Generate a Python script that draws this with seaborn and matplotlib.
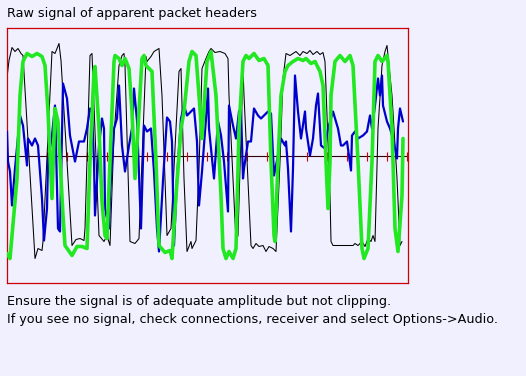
import numpy as np
import pandas as pd
import matplotlib
matplotlib.use("Agg")
import matplotlib.pyplot as plt
import seaborn as sns

# ===================== data (sample index, amplitude) =====================
black_x = [0, 2, 5, 8, 11, 14, 16, 28, 31, 35, 36, 45, 48, 52, 54, 65, 69, 73, 77, 78,
           83, 85, 92, 97, 100, 103, 107, 112, 115, 117, 118, 123, 128, 132, 139, 140, 144,
           147, 152, 155, 160, 164, 169, 172, 174, 177, 180, 184, 185, 189, 192, 195, 199,
           202, 204, 208, 213, 218, 221, 222, 229, 231, 236, 237, 244, 246, 249, 252, 256,
           259, 262, 266, 269, 273, 276, 279, 283, 289, 293, 296, 300, 303, 306, 310, 313,
           316, 318, 323, 324, 326, 336, 346, 348, 351, 355, 358, 361, 364, 366, 368, 371,
           375, 378, 380, 381, 385, 390, 393, 395]
black_y = [78, 95, 108, 104, 107, 102, 100, -103, -93, -95, -86, 104, 102, 112, 95, -90, -84,
           -83, -85, -73, 100, 102, -80, -86, -80, -90, 20, 90, 100, 102, 90, -86, -88, -83,
           99, 94, 99, 104, 107, 60, -80, -73, 27, 84, 87, -23, -96, -86, -93, -85, -13, 87,
           97, 104, 107, 103, 104, 102, 97, 60, -86, -80, 87, 60, -90, -93, -88, -91, -90,
           -96, -91, -93, -96, -6, 77, 102, 100, 104, 100, 104, 102, 105, 101, 104, 101, 103,
           94, -40, -86, -90, -90, -90, -88, -90, -86, -91, -83, -86, -80, -86, 27, 90, 104,
           110, 100, 60, -23, -90, -86]

blue_x = [0, 1, 3, 5, 8, 13, 16, 20, 21, 25, 28, 31, 35, 37, 40, 41, 45, 48, 51, 53, 56, 60,
          63, 68, 72, 77, 80, 83, 85, 87, 88, 92, 95, 97, 98, 102, 103, 107, 110, 112, 115,
          118, 122, 125, 127, 130, 134, 137, 140, 144, 147, 150, 152, 156, 160, 163, 165, 167,
          170, 174, 177, 180, 184, 187, 190, 192, 195, 199, 201, 202, 207, 211, 214, 217, 221,
          222, 226, 229, 232, 234, 236, 237, 241, 244, 247, 251, 254, 257, 261, 264, 267, 270,
          274, 278, 279, 281, 284, 286, 288, 291, 294, 298, 299, 303, 306, 309, 311, 314, 318,
          321, 326, 331, 334, 336, 340, 344, 345, 348, 351, 356, 360, 363, 365, 368, 371, 373,
          375, 376, 380, 383, 386, 390, 391, 393, 396]
blue_y = [24, -6, -16, -50, -13, 40, 30, -10, 17, 10, 17, 10, -43, -85, -53, -6, 20, 50, -73,
          -76, 72, 57, 20, -6, 14, 14, 27, 47, 44, -6, -60, 10, 37, 27, -53, -73, -40, 27, 37,
          70, 10, -16, 10, 27, 67, 35, -73, 30, 24, 27, -16, -73, -96, -25, 38, 34, 14, -90,
          -23, 37, 50, 40, 44, 47, 14, -50, -16, 37, 67, 27, -23, 34, 20, -6, -56, 50, 30, 17,
          44, 47, -23, -13, 14, 14, 47, 40, 37, 40, 44, 42, -20, -5, 17, 10, 14, -13, -76,
          -13, 80, 44, 17, 44, 27, 0, 17, 50, 62, 10, 7, 27, 44, 27, 10, 10, 14, -15, 20, 24,
          17, 20, 24, 40, 27, 50, 77, 60, 80, 50, 34, 27, 17, -3, 27, 47, 34]

green_x = [0, 3, 10, 13, 16, 20, 25, 30, 35, 38, 41, 45, 48, 51, 56, 58, 65, 70, 75, 80, 83,
           87, 88, 92, 95, 98, 100, 103, 107, 108, 112, 115, 118, 122, 125, 128, 132, 135, 137,
           139, 145, 149, 152, 158, 163, 165, 169, 174, 177, 182, 185, 189, 192, 195, 200, 204,
           209, 214, 216, 219, 222, 226, 229, 232, 236, 239, 242, 247, 252, 257, 261, 264, 267,
           268, 271, 274, 278, 281, 286, 291, 296, 299, 304, 308, 313, 316, 319, 321, 323, 324,
           328, 333, 338, 343, 346, 351, 355, 357, 361, 365, 368, 371, 375, 380, 381, 385, 388,
           391, 395, 396]
green_y = [-98, -103, -23, 60, 94, 102, 99, 102, 99, 90, 44, -43, 47, 34, -60, -90, -100, -91,
           -91, -93, -6, 84, 89, 27, -46, -80, -83, -6, 94, 100, 97, 90, 97, 87, 44, -23, 44, 97,
           100, 90, 84, -6, -90, -97, -95, -103, -40, 27, 44, 94, 104, 100, 60, 17, 94, 104, 60,
           -40, -93, -103, -96, -103, -93, 27, 94, 100, 97, 102, 95, 97, 90, -6, -80, -86, -6,
           60, 84, 90, 94, 97, 95, 97, 92, 94, 84, 70, -6, -53, -6, 60, 94, 100, 94, 100, 90,
           -6, -93, -103, -93, -6, 94, 100, 94, 100, 94, 27, -73, -96, -40, 17]

title = "Raw signal of apparent packet headers"
note_lines = ["Ensure the signal is of adequate amplitude but not clipping.",
              "If you see no signal, check connections, receiver and select Options->Audio."]

BG = "#F0F0FF"
N_SAMPLES = 401
HALF = 127.5

sns.set_theme(style="white")
plt.rcParams['font.family'] = ['DejaVu Sans']

fig = plt.figure(figsize=(5.26, 3.76), dpi=100, facecolor=BG)
ax = fig.add_axes([7 / 526, 1 - 283 / 376, 401 / 526, 255 / 376])
ax.set_facecolor(BG)

# centre line with red tick marks every 20 samples
ax.axhline(0, color="#300000", lw=0.8, zorder=1)
ax.vlines(np.arange(20, N_SAMPLES, 20), -5, 4, color="#CC0000", lw=0.8, zorder=1)

df_black = pd.DataFrame({"x": black_x, "y": black_y})
df_blue = pd.DataFrame({"x": blue_x, "y": blue_y})
df_green = pd.DataFrame({"x": green_x, "y": green_y})

sns.lineplot(data=df_black, x="x", y="y", ax=ax, color="black", lw=0.75,
             sort=False, estimator=None, zorder=2)
sns.lineplot(data=df_blue, x="x", y="y", ax=ax, color="#0000CC", lw=1.6,
             sort=False, estimator=None, zorder=3)
sns.lineplot(data=df_green, x="x", y="y", ax=ax, color="#22E822", lw=2.6,
             sort=False, estimator=None, zorder=4)

ax.set_xlim(0, N_SAMPLES)
ax.set_ylim(-HALF, HALF)
ax.set_xticks([])
ax.set_yticks([])
ax.set_xlabel("")
ax.set_ylabel("")
for sp in ax.spines.values():
    sp.set_visible(True)
    sp.set_color("#CC0000")
    sp.set_linewidth(0.9)

fs = 9.2
fig.text(7 / 526, 1 - 14 / 376, title, fontsize=fs, color="black", va="center", ha="left")
fig.text(7 / 526, 1 - 302 / 376, note_lines[0], fontsize=fs, color="black", va="center", ha="left")
fig.text(7 / 526, 1 - 319 / 376, note_lines[1], fontsize=fs, color="black", va="center", ha="left")

fig.savefig("out.png", dpi=100, facecolor=BG)
